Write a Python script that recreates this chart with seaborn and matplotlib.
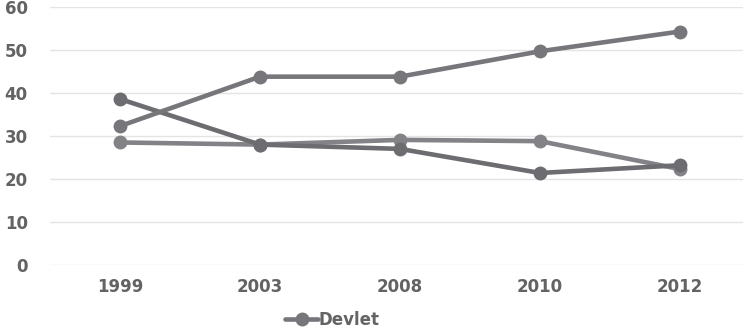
import matplotlib
matplotlib.use("Agg")
import matplotlib.pyplot as plt
import seaborn as sns
import pandas as pd

years = ["1999", "2003", "2008", "2010", "2012"]
devlet = [32.3, 43.8, 43.8, 49.7, 54.3]
series_b = [38.6, 28.0, 27.0, 21.4, 23.2]
series_c = [28.5, 28.0, 29.1, 28.8, 22.3]
y_ticks = [0, 10, 20, 30, 40, 50, 60]

sns.set_theme(style="white")
plt.rcParams["font.family"] = ["DejaVu Sans"]

fig = plt.figure(figsize=(7.43, 3.32), dpi=100)
ax = fig.add_axes([50 / 743, 1 - 265 / 332, 700 / 743, 258 / 332])

frames = []
for name, vals in [("Devlet", devlet), ("B", series_b), ("C", series_c)]:
    frames.append(pd.DataFrame({"year": years, "value": vals, "series": name}))
df = pd.concat(frames)
df["x"] = df["year"].map({y: i for i, y in enumerate(years)})

colors = {"Devlet": "#76767b", "B": "#6c6c71", "C": "#828287"}
order = ["C", "B", "Devlet"]
for name in order:
    sub = df[df["series"] == name]
    sns.lineplot(data=sub, x="x", y="value", ax=ax, color=colors[name],
                 linewidth=3.3, marker="o", markersize=10,
                 markeredgewidth=0, label=name if name == "Devlet" else None,
                 legend=False)

ax.set_xlim(-0.5, 4.5)
ax.set_ylim(0, 60)
ax.set_xticks(range(len(years)))
ax.set_xticklabels(years)
ax.set_yticks(y_ticks)
ax.set_xlabel("")
ax.set_ylabel("")
ax.yaxis.grid(True, color="#e4e4e4", linewidth=1)
ax.set_axisbelow(True)
for s in ax.spines.values():
    s.set_visible(False)
ax.tick_params(axis="both", length=0, labelsize=12, labelcolor="#636363")
for lbl in ax.get_xticklabels() + ax.get_yticklabels():
    lbl.set_fontweight("bold")
ax.tick_params(axis="x", pad=9)
ax.tick_params(axis="y", pad=16)

h, l = ax.get_legend_handles_labels()
leg = fig.legend(h, l, loc="center", bbox_to_anchor=(332 / 743, 1 - 320 / 332),
                 frameon=False, handlelength=2.0, handletextpad=0.0,
                 prop={"weight": "bold", "size": 12})
for t in leg.get_texts():
    t.set_color("#636363")

fig.savefig("out.png", dpi=100)
